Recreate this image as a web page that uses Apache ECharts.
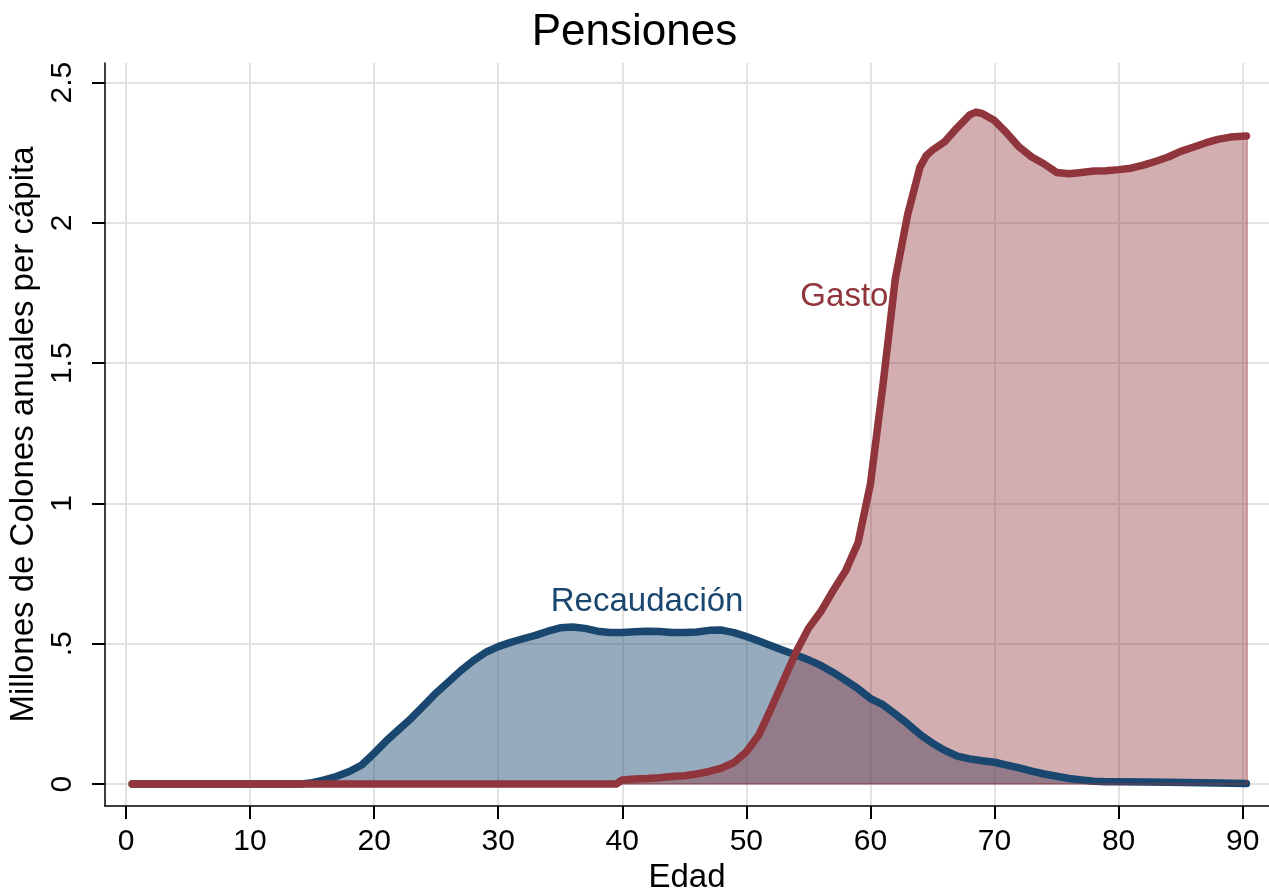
<!DOCTYPE html>
<html>
<head>
<meta charset="utf-8">
<title>Pensiones</title>
<script src="https://cdn.jsdelivr.net/npm/echarts@6/dist/echarts.min.js"></script>
<style>
  html, body { margin: 0; padding: 0; background: #fff; }
  #chart { width: 1269px; height: 893px; }
</style>
</head>
<body>
<div id="chart"></div>
<script>
// Recaudación (edad, millones)
const recAge = [0.5, 14, 15, 16, 17, 18, 19, 20, 21, 22, 23, 24, 25, 26, 27, 28, 29, 30,
  31, 32, 33, 34, 35, 36, 37, 38, 39, 40, 41, 42, 43, 44, 45, 46, 47, 48, 49, 50,
  51, 52, 53, 54, 55, 56, 57, 58, 59, 60, 61, 62, 63, 64, 65, 66, 67, 68, 69, 70,
  71, 72, 73, 74, 75, 76, 77, 78, 79, 80, 84, 88, 90.3]
const recVal = [0, 0, 0.005, 0.015, 0.028, 0.045, 0.068, 0.11, 0.155, 0.195, 0.235, 0.28, 0.325, 0.365, 0.405, 0.44, 0.47, 0.49,
  0.505, 0.518, 0.53, 0.545, 0.557, 0.56, 0.555, 0.545, 0.54, 0.54, 0.543, 0.545, 0.544, 0.54, 0.54, 0.542, 0.548, 0.549, 0.54, 0.526,
  0.51, 0.493, 0.476, 0.46, 0.443, 0.423, 0.398, 0.37, 0.34, 0.305, 0.283, 0.25, 0.215, 0.177, 0.146, 0.12, 0.1, 0.09, 0.083, 0.078,
  0.068, 0.058, 0.046, 0.036, 0.028, 0.02, 0.015, 0.01, 0.008, 0.008, 0.007, 0.004, 0.002]

// Gasto (edad, millones)
const gasAge = [0.5, 39.5, 40, 41, 42, 43, 44, 45, 46, 47, 48, 49, 50, 51, 52, 53, 54, 55, 56, 57, 58, 59, 60,
  61, 62, 63, 64, 64.5, 65, 66, 67, 68, 68.5, 69, 70, 71, 72, 73, 74, 75, 76, 77, 78, 79, 80,
  81, 82, 83, 84, 85, 86, 87, 88, 89, 90.3]
const gasVal = [0, 0, 0.015, 0.018, 0.02, 0.023, 0.027, 0.03, 0.036, 0.045, 0.057, 0.077, 0.115, 0.175, 0.27, 0.37, 0.47, 0.555, 0.615, 0.69, 0.76, 0.86, 1.07,
  1.42, 1.8, 2.03, 2.2, 2.24, 2.26, 2.29, 2.34, 2.385, 2.395, 2.39, 2.365, 2.32, 2.27, 2.235, 2.21, 2.18, 2.175, 2.18, 2.185, 2.186, 2.19,
  2.195, 2.206, 2.22, 2.235, 2.255, 2.27, 2.285, 2.298, 2.306, 2.31]

const xTicks = [0, 10, 20, 30, 40, 50, 60, 70, 80, 90]
const yTicks = [0, 0.5, 1, 1.5, 2, 2.5]
const yTickLabels = ['0', '.5', '1', '1.5', '2', '2.5']

// posición de las etiquetas de texto (coordenadas de datos)
const gasLabelAt = [57.9, 1.735]
const recLabelAt = [42.0, 0.648]

const navy = '#1a476f'
const maroon = '#90353b'
const font = "'Liberation Sans', Arial, sans-serif"

const recData = recAge.map((a, i) => [a, recVal[i]])
const gasData = gasAge.map((a, i) => [a, gasVal[i]])
const gasEnd = gasData[gasData.length - 1]

const chart = echarts.init(document.getElementById('chart'))

const option = {
  animation: false,
  textStyle: { fontFamily: font },
  title: {
    text: 'Pensiones',
    left: 'center',
    top: 6,
    textStyle: { color: '#000', fontSize: 44, fontWeight: 'normal', fontFamily: font }
  },
  grid: {
    left: 105,
    right: 0,
    top: 63,
    bottom: 87,
    containLabel: false,
    outerBoundsMode: 'none'
  },
  xAxis: {
    type: 'value',
    min: -1.69,
    max: 92.12,
    name: 'Edad',
    nameLocation: 'middle',
    nameGap: 55,
    nameTextStyle: { color: '#000', fontSize: 33, fontFamily: font },
    axisLine: { show: true, onZero: false, lineStyle: { color: '#000', width: 1.5 } },
    axisTick: { show: true, inside: false, length: 13, customValues: xTicks, lineStyle: { color: '#000', width: 2 } },
    axisLabel: { customValues: xTicks, color: '#000', fontSize: 30, margin: 21, fontFamily: font },
    splitLine: { show: true, lineStyle: { color: '#e2e2e2', width: 2 } }
  },
  yAxis: {
    type: 'value',
    min: -0.078,
    max: 2.57,
    name: 'Millones de Colones anuales per cápita',
    nameLocation: 'middle',
    nameGap: 55,
    nameTextStyle: { color: '#000', fontSize: 33, fontFamily: font },
    axisLine: { show: true, onZero: false, lineStyle: { color: '#000', width: 1.5 } },
    axisTick: { show: true, inside: false, length: 13, customValues: yTicks, lineStyle: { color: '#000', width: 2 } },
    axisLabel: {
      customValues: yTicks,
      rotate: 90,
      color: '#000',
      fontSize: 30,
      margin: 27,
      fontFamily: font,
      formatter: (v) => {
        const i = yTicks.findIndex(t => Math.abs(t - v) < 1e-9)
        return i >= 0 ? yTickLabels[i] : ''
      }
    },
    splitLine: { show: true, lineStyle: { color: '#e2e2e2', width: 2 } }
  },
  series: [
    {
      name: 'Recaudación área',
      type: 'line',
      data: recData,
      showSymbol: false,
      smooth: false,
      lineStyle: { width: 0 },
      areaStyle: { color: navy, opacity: 0.46 },
      z: 2
    },
    {
      name: 'Gasto área',
      type: 'line',
      data: gasData,
      showSymbol: false,
      smooth: false,
      lineStyle: { width: 0 },
      areaStyle: { color: maroon, opacity: 0.4 },
      markLine: {
        silent: true,
        symbol: 'none',
        label: { show: false },
        lineStyle: { color: maroon, opacity: 0.45, width: 2, type: 'solid' },
        data: [
          [{ coord: [gasEnd[0], 0] }, { coord: [gasEnd[0], gasEnd[1]] }],
          [{ coord: [gasData[0][0], 0] }, { coord: [gasEnd[0], 0] }]
        ]
      },
      z: 3
    },
    {
      name: 'Recaudación',
      type: 'line',
      data: recData,
      showSymbol: false,
      smooth: false,
      lineStyle: { color: navy, width: 7.5, cap: 'round', join: 'round' },
      markPoint: {
        symbol: 'circle',
        symbolSize: 0,
        label: { show: true, position: 'inside', formatter: 'Recaudación', color: navy, fontSize: 33, fontFamily: font },
        data: [{ coord: recLabelAt }]
      },
      z: 4
    },
    {
      name: 'Gasto',
      type: 'line',
      data: gasData,
      showSymbol: false,
      smooth: false,
      lineStyle: { color: maroon, width: 7.5, cap: 'round', join: 'round' },
      markPoint: {
        symbol: 'circle',
        symbolSize: 0,
        label: { show: true, position: 'inside', formatter: 'Gasto', color: maroon, fontSize: 33, fontFamily: font },
        data: [{ coord: gasLabelAt }]
      },
      z: 5
    }
  ]
}

chart.setOption(option)
</script>
</body>
</html>
